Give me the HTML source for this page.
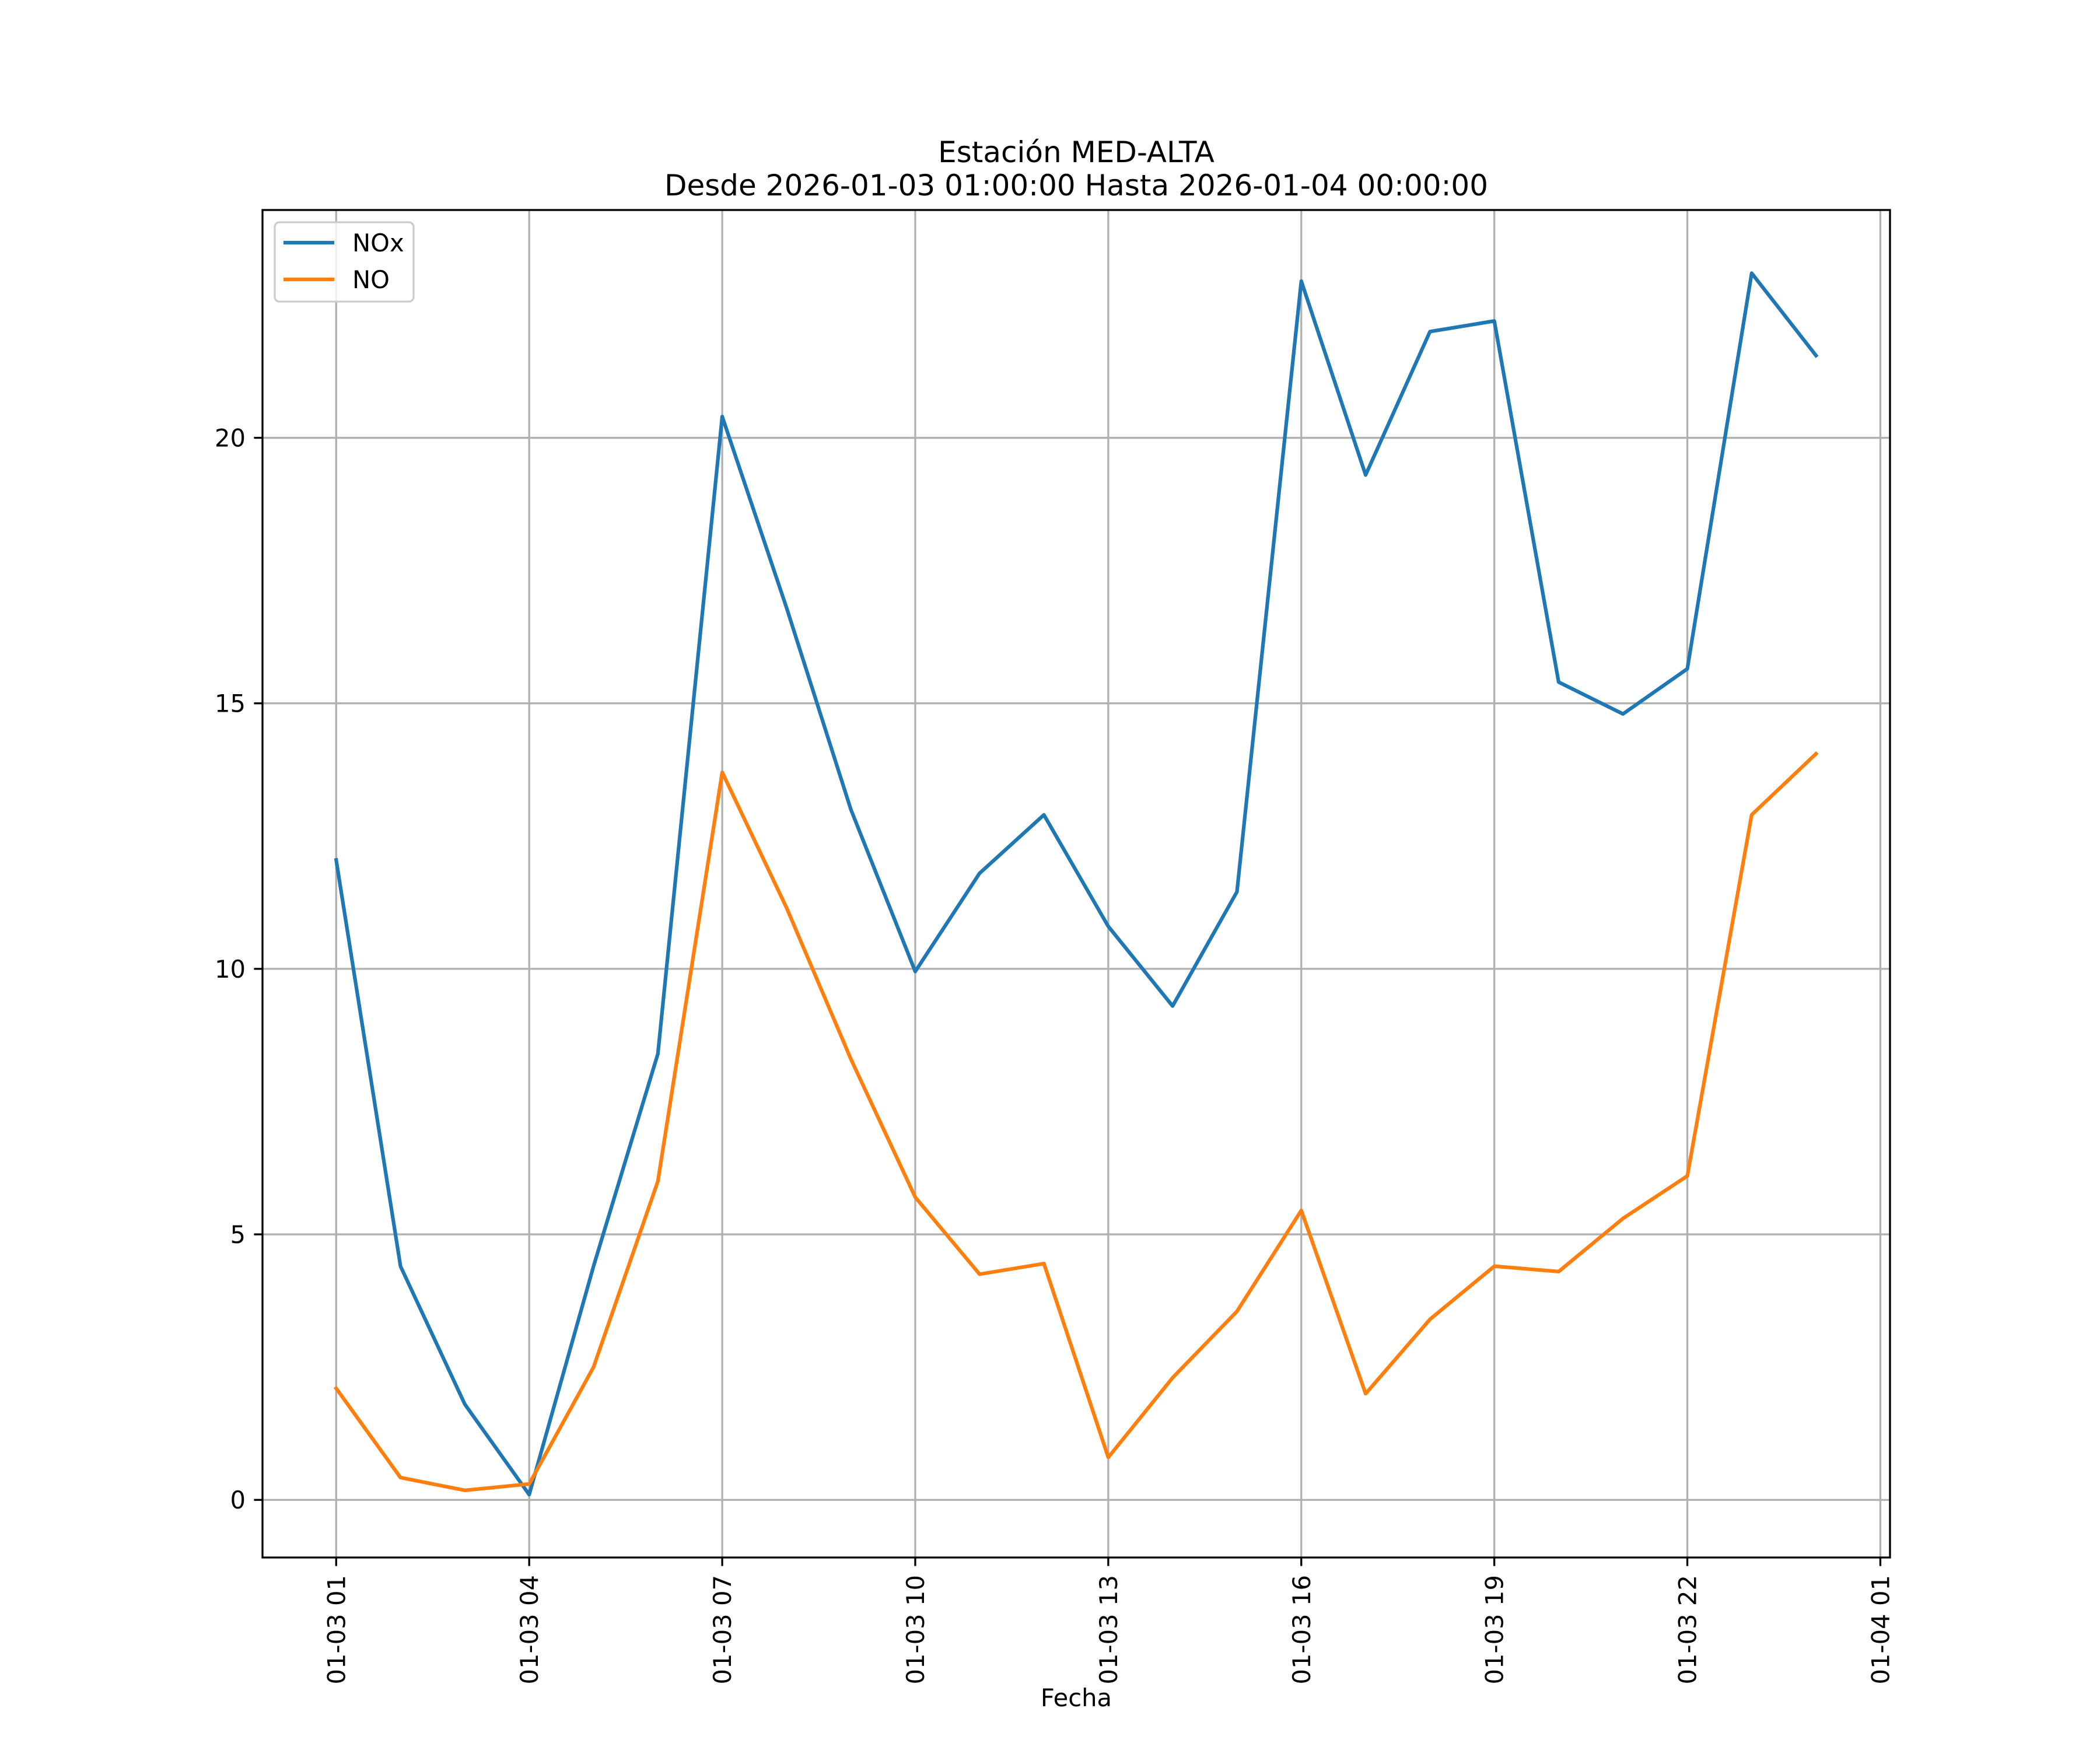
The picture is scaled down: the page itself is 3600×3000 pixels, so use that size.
<!DOCTYPE html>
<html><head><meta charset="utf-8"><style>html,body{margin:0;padding:0;background:#fff}svg{display:block}</style></head>
<body>
<svg xmlns="http://www.w3.org/2000/svg" width="3600" height="3000" viewBox="0 0 3600 3000" font-family="'DejaVu Sans','Liberation Sans',sans-serif">
<rect width="3600" height="3000" fill="#fff"/>
<g id="plot"></g>
</svg>
<script>
const hours = [0,1,2,3,4,5,6,7,8,9,10,11,12,13,14,15,16,17,18,19,20,21,22,23];
const noxValues = [12.05,4.4,1.8,0.1,4.4,8.4,20.4,16.8,13.0,9.95,11.8,12.9,10.8,9.3,11.45,22.95,19.3,22.0,22.2,15.4,14.8,15.65,23.1,21.55];
const noValues = [2.1,0.42,0.18,0.3,2.5,6.0,13.7,11.15,8.3,5.7,4.25,4.45,0.8,2.3,3.55,5.45,2.0,3.4,4.4,4.3,5.3,6.1,12.9,14.05];
const xTickHours = [0,3,6,9,12,15,18,21,24];
const xTickLabels = ["01-03 01","01-03 04","01-03 07","01-03 10","01-03 13","01-03 16","01-03 19","01-03 22","01-04 01"];
const yTicks = [0,5,10,15,20];

const NS="http://www.w3.org/2000/svg";
const L=450,R=3240,T=360,B=2670;
const xMin=-1.145,xMax=24.15,yMin=-1.085,yMax=24.29;
const FS=41.7;
const sx=h=>L+(h-xMin)/(xMax-xMin)*(R-L);
const sy=v=>B-(v-yMin)/(yMax-yMin)*(B-T);
const g=document.getElementById('plot');
function mk(tag,attrs,parent){const e=document.createElementNS(NS,tag);for(const k in attrs)e.setAttribute(k,attrs[k]);(parent||g).appendChild(e);return e;}

xTickHours.forEach((h,i)=>{
  const x=sx(h);
  const gl=mk('line',{x1:x,x2:x,y1:T,y2:B,stroke:'#b0b0b0','stroke-width':3.3});
  
  
  const tk=mk('line',{x1:x,x2:x,y1:B,y2:B+14.6,stroke:'#000','stroke-width':3.3});
  
  
  const t=mk('text',{x:0,y:0,'font-size':FS,'text-anchor':'end',transform:`translate(${x+15},${B+30}) rotate(-90)`});
  t.textContent=xTickLabels[i];
  
  
});
yTicks.forEach(v=>{
  const y=sy(v);
  const gl=mk('line',{x1:L,x2:R,y1:y,y2:y,stroke:'#b0b0b0','stroke-width':3.3});
  
  
  const tk=mk('line',{x1:L-14.6,x2:L,y1:y,y2:y,stroke:'#000','stroke-width':3.3});
  
  
  const t=mk('text',{x:L-29,y:y+15,'font-size':FS,'text-anchor':'end'});
  t.textContent=String(v);
  
  
});

function series(vals,color,name){
  const p=mk('polyline',{points:vals.map((v,i)=>sx(hours[i])+','+sy(v)).join(' '),fill:'none',stroke:color,'stroke-width':6.25,'stroke-linejoin':'round','stroke-linecap':'square'});
  
  
}
series(noxValues,'#1f77b4','nox-line');
series(noValues,'#ff7f0e','no-line');

const fr=mk('rect',{x:L,y:T,width:R-L,height:B-T,fill:'none',stroke:'#000','stroke-width':3.3});



const lg=mk('g',{});


mk('rect',{x:471,y:381,width:238,height:136,rx:8,fill:'#fff','fill-opacity':0.8,stroke:'#cccccc','stroke-width':3.3},lg);
mk('line',{x1:486,x2:573,y1:416,y2:416,stroke:'#1f77b4','stroke-width':6.25},lg);
const l1=mk('text',{x:604,y:431,'font-size':FS},lg);l1.textContent='NOx';
mk('line',{x1:486,x2:573,y1:479,y2:479,stroke:'#ff7f0e','stroke-width':6.25},lg);
const l2=mk('text',{x:604,y:494,'font-size':FS},lg);l2.textContent='NO';

const cx=(L+R)/2;
const t1=mk('text',{x:cx,y:278,'font-size':50,'text-anchor':'middle'});t1.textContent='Estación MED-ALTA';


const t2=mk('text',{x:cx,y:335,'font-size':50,'text-anchor':'middle'});t2.textContent='Desde 2026-01-03 01:00:00 Hasta 2026-01-04 00:00:00';


const xl=mk('text',{x:cx,y:2925,'font-size':FS,'text-anchor':'middle'});xl.textContent='Fecha';


</script>
</body></html>
